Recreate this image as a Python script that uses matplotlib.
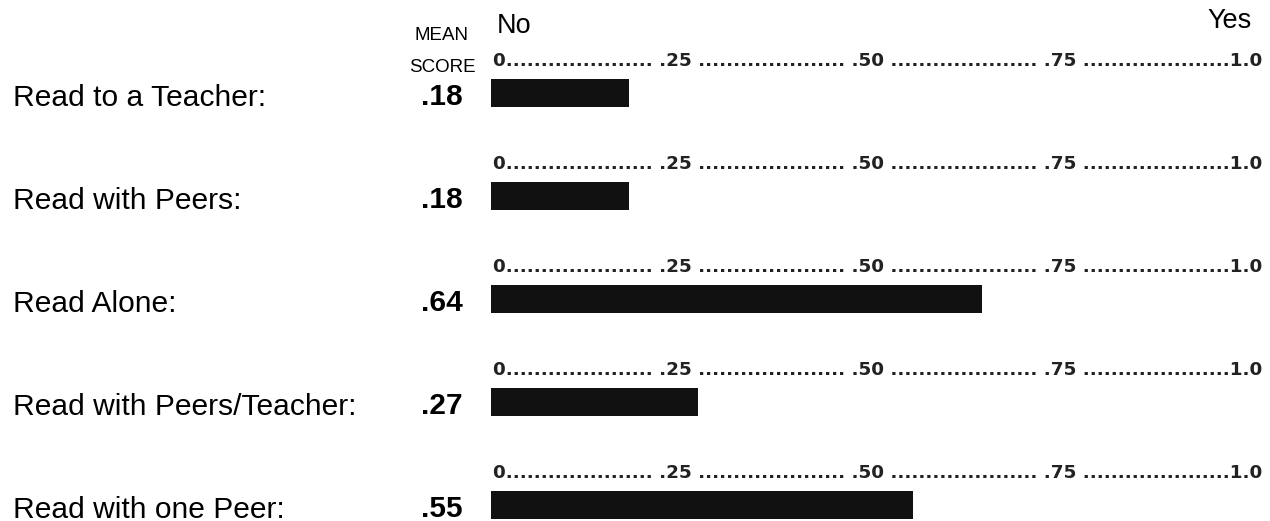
import matplotlib
matplotlib.use("Agg")
import matplotlib.pyplot as plt
import matplotlib.transforms as mtransforms

categories = ["Read to a Teacher:", "Read with Peers:", "Read Alone:",
              "Read with Peers/Teacher:", "Read with one Peer:"]
scores = [0.18, 0.18, 0.64, 0.27, 0.55]
score_labels = [".18", ".18", ".64", ".27", ".55"]
scale_text = "0" + "." * 21 + " .25 " + "." * 21 + " .50 " + "." * 21 + " .75 " + "." * 21 + "1.0"

W, H = 1270, 521
fig = plt.figure(figsize=(W / 100, H / 100), dpi=100)
fig.patch.set_facecolor("white")

row_px = 103.0
first_center = 93.0
ax_left, ax_right = 491.0, 1258.0
ax = fig.add_axes([ax_left / W, 0, (ax_right - ax_left) / W, 1])
ax.set_xlim(0, 1)
ax.set_ylim((H - first_center) / row_px, -first_center / row_px)
ax.axis("off")

idx = list(range(len(categories)))
ax.barh(idx, scores, height=28 / row_px, left=0, color="#111111", align="center")

tr = mtransforms.blended_transform_factory(fig.transFigure, ax.transData)
sans = "Liberation Sans"
for i, (cat, lab) in enumerate(zip(categories, score_labels)):
    ax.text(13 / W, i + 0.125, cat, transform=tr, ha="left", va="baseline",
            fontsize=21.6, family=sans, color="black", clip_on=False)
    ax.text(463 / W, i + 0.12, lab, transform=tr, ha="right", va="baseline",
            fontsize=21.5, family=sans, fontweight="bold", color="black", clip_on=False)
    ax.text(493 / W, i - 0.26, scale_text, transform=tr, ha="left", va="baseline",
            fontsize=13.2, family="DejaVu Sans", fontweight="bold", color="#222222",
            clip_on=False)

ax.text(442 / W, -0.515, "MEAN", transform=tr, ha="center", va="baseline",
        fontsize=13.5, family=sans, color="black")
ax.text(442 / W, -0.204, "SCORE", transform=tr, ha="center", va="baseline",
        fontsize=13.5, family=sans, color="black")
ax.text(497 / W, -0.583, "No", transform=tr, ha="left", va="baseline",
        fontsize=19.5, family=sans, color="black")
ax.text(1252 / W, -0.631, "Yes", transform=tr, ha="right", va="baseline",
        fontsize=19.5, family=sans, color="black")

fig.savefig("out.png", dpi=100, facecolor="white")
